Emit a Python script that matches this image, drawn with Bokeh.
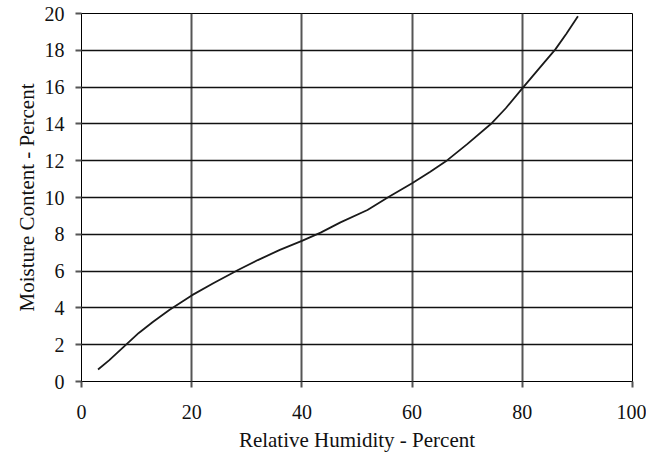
from bokeh.plotting import figure
from bokeh.models import FixedTicker, Range1d
from bokeh.embed import file_html
from bokeh.resources import INLINE

# Relative humidity (%) vs moisture content (%)
humidity = [3, 5, 7.7, 10.4, 13, 16, 20, 24, 28.5, 32, 36, 40, 43.4, 47, 51.9, 55.8,
            60, 63.3, 66.4, 70, 74.5, 77, 80, 83.3, 86, 88, 90.1]
moisture = [0.65, 1.15, 1.9, 2.64, 3.25, 3.9, 4.68, 5.35, 6.07, 6.6, 7.15, 7.64, 8.09,
            8.65, 9.32, 10.04, 10.77, 11.4, 12.03, 12.9, 14.05, 14.85, 15.93, 17.1,
            18.05, 18.9, 19.85]
x_ticks = [0, 20, 40, 60, 80, 100]
y_ticks = [0, 2, 4, 6, 8, 10, 12, 14, 16, 18, 20]

FONT = "Liberation Serif"

p = figure(width=646, height=454, output_backend="svg", toolbar_location=None,
           x_range=Range1d(0, 100), y_range=Range1d(0, 20),
           min_border_left=81, min_border_right=14, min_border_top=13, min_border_bottom=66)
p.background_fill_color = "white"
p.border_fill_color = "white"
p.outline_line_color = "black"
p.outline_line_width = 1

p.line(humidity, moisture, line_color="#1a1a1a", line_width=1.8, line_join="round")

p.xaxis.ticker = FixedTicker(ticks=x_ticks)
p.yaxis.ticker = FixedTicker(ticks=y_ticks)
p.xaxis.axis_label = "Relative Humidity - Percent"
p.yaxis.axis_label = "Moisture Content - Percent"
for ax in (p.xaxis, p.yaxis):
    ax.axis_label_text_font = FONT
    ax.axis_label_text_font_style = "normal"
    ax.axis_label_text_font_size = "21px"
    ax.axis_label_text_color = "#111111"
    ax.major_label_text_font = FONT
    ax.major_label_text_font_size = "20px"
    ax.major_label_text_color = "#111111"
    ax.axis_line_color = "black"
    ax.major_tick_line_color = "#555555"
    ax.major_tick_line_width = 2
    ax.major_tick_out = 6
    ax.major_tick_in = 0
    ax.minor_tick_line_color = None
p.xaxis.major_label_standoff = 17
p.yaxis.major_label_standoff = 11
p.xaxis.axis_label_standoff = 6
p.yaxis.axis_label_standoff = 3

p.xgrid.grid_line_color = "#555555"
p.xgrid.grid_line_width = 2
p.ygrid.grid_line_color = "#111111"
p.ygrid.grid_line_width = 1.3

open("out.html", "w").write(file_html(p, INLINE))
